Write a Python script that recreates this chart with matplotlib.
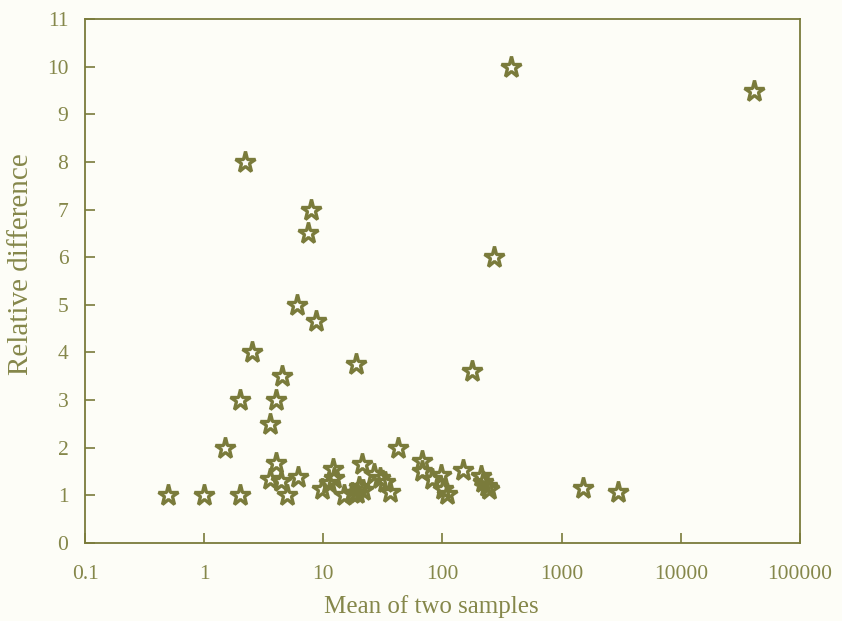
import matplotlib.pyplot as plt
import numpy as np

# mean of two samples (x) vs relative difference (y)
mean_vals = [0.5, 1.0, 2.0, 2.2, 2.5, 2.0, 1.5, 3.6, 4.0, 4.5,
             6.0, 7.5, 7.9, 8.6, 18.9, 42.5, 178, 273, 373, 41000,
             1500, 2950,
             4.0, 3.6, 4.4, 5.0, 6.1, 9.7, 12.0, 12.3, 11.2,
             15.0, 17.4, 21.1, 19.8, 19.2, 21.5, 26.5, 30.0, 33.0, 36.6,
             67.5, 67.5, 82, 98, 102, 109, 148, 209, 219, 236, 244]
rel_diff = [1.0, 1.0, 1.0, 8.0, 4.0, 3.0, 2.0, 2.5, 3.0, 3.5,
            5.0, 6.5, 7.0, 4.65, 3.75, 2.0, 3.6, 6.0, 10.0, 9.5,
            1.15, 1.07,
            1.67, 1.35, 1.3, 1.0, 1.38, 1.12, 1.55, 1.36, 1.25,
            1.0, 1.04, 1.65, 1.18, 1.04, 1.1, 1.45, 1.36, 1.28, 1.06,
            1.72, 1.5, 1.34, 1.42, 1.13, 1.02, 1.52, 1.4, 1.28, 1.2, 1.13]

x_ticks = [0.1, 1, 10, 100, 1000, 10000, 100000]
x_labels = ['0.1', '1', '10', '100', '1000', '10000', '100000']
y_ticks = list(range(0, 12))

olive = '#7a7b3b'
text_col = '#85874a'
bg = '#fdfdf7'

plt.rcParams['font.family'] = ['Liberation Serif', 'DejaVu Serif']

fig = plt.figure(figsize=(8.42, 6.21), dpi=100, facecolor=bg)
ax = fig.add_axes([0.101, 0.126, 0.849, 0.843], facecolor=bg)

ax.plot(mean_vals, rel_diff, linestyle='none', marker='*', markersize=15.5,
        markerfacecolor='none', markeredgecolor=olive, markeredgewidth=2.4)

ax.set_xscale('log')
ax.set_xlim(0.1, 100000)
ax.set_ylim(0, 11)
ax.set_xticks(x_ticks)
ax.set_xticklabels(x_labels)
ax.set_yticks(y_ticks)
ax.minorticks_off()

ax.tick_params(direction='in', length=7, width=1.2, color=olive,
               labelcolor=text_col, labelsize=15.5)
ax.tick_params(axis='x', pad=16)
ax.tick_params(axis='y', pad=12)
for s in ax.spines.values():
    s.set_color(olive)
    s.set_linewidth(1.3)

ax.set_xlabel('Mean of two samples', color=text_col, fontsize=18)
ax.set_ylabel('Relative difference', color=text_col, fontsize=21)
ax.xaxis.set_label_coords(0.484, -0.099)
ax.yaxis.set_label_coords(-0.072, 0.532)

plt.savefig('out.png', dpi=100, facecolor=bg)
